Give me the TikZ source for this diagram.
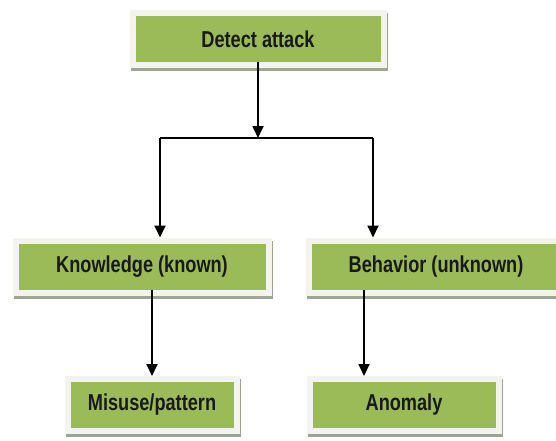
\documentclass[tikz,border=0pt]{standalone}
\usepackage{fontspec}
\setmainfont{Liberation Sans}[FakeStretch=0.79]
\usepackage{tikz}
\usetikzlibrary{positioning}
\usetikzlibrary{arrows.meta}
\usepackage{xcolor}
\definecolor{boxgreen}{RGB}{155,187,89}
\definecolor{framewhite}{RGB}{243,244,240}
\definecolor{shadowgray}{RGB}{158,164,150}
\tikzset{edge/.style = {-{Triangle[length=12pt,width=11pt]}, line width=1.8pt}}
\tikzset{stepbox/.style = {fill=boxgreen, draw=framewhite, line width=6pt,
	preaction={draw=shadowgray, fill=shadowgray, line width=6pt, transform canvas={xshift=1.5pt,yshift=-3pt}},
	inner sep=0pt, minimum height=52pt, text=black!90,
	font=\fontsize{23}{25}\selectfont\bfseries}}

\begin{document}
\begin{tikzpicture}[x=1pt,y=-1pt]
		\fill[white] (0,0) rectangle (556,441);
		\useasboundingbox (0,0) rectangle (556,441);

		%draw boxes
		\node[stepbox, minimum width=251pt](detect) at (258,39){Detect attack};
		\node[stepbox, minimum width=253pt](knowledge) at (142,266.5){Knowledge (known)};
		\node[stepbox, minimum width=255pt](behavior) at (436,266.5){Behavior (unknown)};
		\node[stepbox, minimum width=169pt](misuse) at (152,405){Misuse/pattern};
		\node[stepbox, minimum width=189pt](anomaly) at (404,405){Anomaly};

		%split under the top box
		\coordinate(split) at (258,138);
		\coordinate(left) at (160,138);
		\coordinate(right) at (373,138);
		\draw[edge, shorten <=-6pt] (detect.south) -- (split);
		\draw[line width=1.8pt] (left) -- (right);
		\draw[edge] (left) -- (left |- knowledge.north);
		\draw[edge] (right) -- (right |- behavior.north);

		%draw lower arrows
		\draw[edge, shorten <=-6pt] (misuse.north |- knowledge.south) -- (misuse.north);
		\draw[edge, shorten <=-6pt] ([xshift=-72pt]behavior.south) -- ([xshift=-40pt]anomaly.north);
\end{tikzpicture}
\end{document}
